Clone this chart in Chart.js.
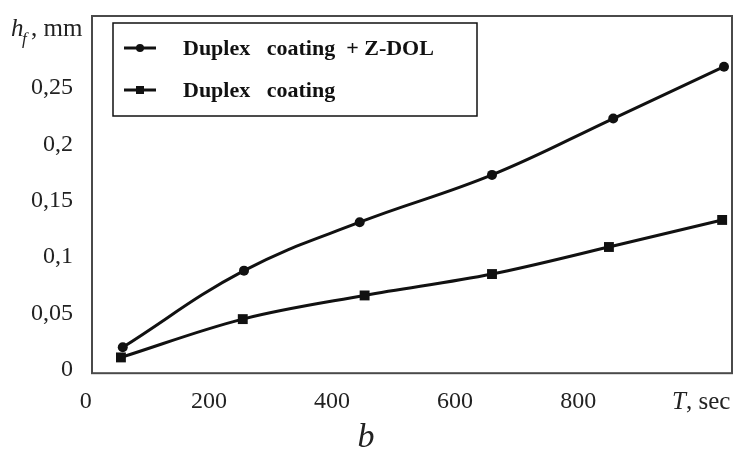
<!DOCTYPE html>
<html>
<head>
<meta charset="utf-8">
<script src="https://cdn.jsdelivr.net/npm/chart.js@4.4.1/dist/chart.umd.min.js"></script>
<style>
    html, body { margin: 0; padding: 0; background: #fff; }
</style>
</head>
<body>
<canvas id="myChart" width="734" height="458"></canvas>
<script>
// values
var timeZdol = [60, 257, 445, 660, 857, 1037];
var wearZdol = [0.020, 0.088, 0.131, 0.173, 0.223, 0.269];
var timeDuplex = [57, 255, 453, 660, 850, 1034];
var wearDuplex = [0.011, 0.045, 0.066, 0.085, 0.109, 0.133];
var seriesNames = ['Duplex   coating  + Z-DOL', 'Duplex   coating'];
var xTicks = [0, 200, 400, 600, 800];
var yTicks = [0, 0.05, 0.1, 0.15, 0.2, 0.25];

(function () {
    var serif = "'Liberation Serif', 'DejaVu Serif', serif";
    var ink = '#111';

    function points(xs, ys) {
        return xs.map(function (x, i) { return { x: x, y: ys[i] }; });
    }

    // frame, inset legend and axis names
    var decorPlugin = {
        id: 'decor',
        afterDraw: function (chart) {
            var c = chart.ctx, a = chart.chartArea;
            c.save();
            c.strokeStyle = '#4a4a4a';
            c.lineWidth = 2;
            c.strokeRect(a.left, a.top, a.right - a.left, a.bottom - a.top);

            // legend box
            c.strokeStyle = ink;
            c.lineWidth = 1.5;
            c.strokeRect(113, 23, 364, 93);
            chart.data.datasets.forEach(function (ds, i) {
                var y = 48 + i * 42;
                c.strokeStyle = ink;
                c.fillStyle = ink;
                c.lineWidth = 3;
                c.beginPath();
                c.moveTo(124, y);
                c.lineTo(156, y);
                c.stroke();
                if (ds.pointStyle === 'circle') {
                    c.beginPath();
                    c.arc(140, y, 4, 0, Math.PI * 2);
                    c.fill();
                } else {
                    c.fillRect(136, y - 4, 8, 8);
                }
                c.font = 'bold 22px ' + serif;
                c.textBaseline = 'middle';
                c.textAlign = 'left';
                c.fillText(ds.label, 183, y + 1);
            });

            // y axis name: h_f, mm
            c.fillStyle = '#222';
            c.textBaseline = 'alphabetic';
            c.textAlign = 'left';
            c.font = 'italic 25px ' + serif;
            c.fillText('h', 11, 36);
            c.font = 'italic 17px ' + serif;
            c.fillText('f', 22, 44);
            c.font = '25px ' + serif;
            c.fillText(', mm', 31, 36);

            // x axis name: T, sec
            var xs = chart.scales.x;
            var cx = xs.getPixelForValue(1000);
            c.font = 'italic 25px ' + serif;
            var wT = c.measureText('T').width;
            c.font = '25px ' + serif;
            var wS = c.measureText(', sec').width;
            var x0 = cx - (wT + wS) / 2;
            c.font = 'italic 25px ' + serif;
            c.fillText('T', x0, 409);
            c.font = '25px ' + serif;
            c.fillText(', sec', x0 + wT, 409);
            c.restore();
        }
    };

    var ctx = document.getElementById('myChart');
    new Chart(ctx, {
        type: 'line',
        plugins: [decorPlugin],
        data: {
            datasets: [{
                label: seriesNames[0],
                data: points(timeZdol, wearZdol),
                borderColor: ink,
                backgroundColor: ink,
                borderWidth: 3,
                pointStyle: 'circle',
                pointRadius: 5,
                pointBorderWidth: 0,
                tension: 0.4
            }, {
                label: seriesNames[1],
                data: points(timeDuplex, wearDuplex),
                borderColor: ink,
                backgroundColor: ink,
                borderWidth: 3,
                pointStyle: 'rect',
                pointRadius: 7,
                pointBorderWidth: 0,
                tension: 0.35
            }]
        },
        options: {
            responsive: false,
            animation: false,
            clip: false,
            layout: { autoPadding: false, padding: { top: 16, right: 2, left: 0, bottom: 0 } },
            plugins: {
                legend: { display: false },
                tooltip: { enabled: false },
                title: {
                    display: true,
                    position: 'bottom',
                    text: 'b',
                    color: '#222',
                    font: { family: serif, size: 34, style: 'italic', weight: 'normal' },
                    padding: { top: 4, bottom: 0 }
                }
            },
            scales: {
                x: {
                    type: 'linear',
                    min: 10,
                    max: 1050,
                    grid: { display: false, drawTicks: false },
                    border: { display: false },
                    afterBuildTicks: function (scale) {
                        scale.ticks = xTicks.map(function (v) { return { value: v }; });
                    },
                    afterFit: function (scale) {
                        scale.height = 40;
                        scale.paddingLeft = 0;
                        scale.paddingRight = 0;
                    },
                    ticks: {
                        color: '#222',
                        padding: 14,
                        maxRotation: 0,
                        autoSkip: false,
                        font: { family: serif, size: 24 }
                    }
                },
                y: {
                    min: -0.003,
                    max: 0.314,
                    grid: { display: false, drawTicks: false },
                    border: { display: false },
                    afterBuildTicks: function (scale) {
                        scale.ticks = yTicks.map(function (v) { return { value: v }; });
                    },
                    afterFit: function (scale) {
                        scale.width = 92;
                        scale.paddingTop = 0;
                        scale.paddingBottom = 0;
                    },
                    ticks: {
                        color: '#222',
                        padding: 19,
                        font: { family: serif, size: 24 },
                        callback: function (v) { return String(v).replace('.', ','); }
                    }
                }
            }
        }
    });
})()
</script>
</body>
</html>
